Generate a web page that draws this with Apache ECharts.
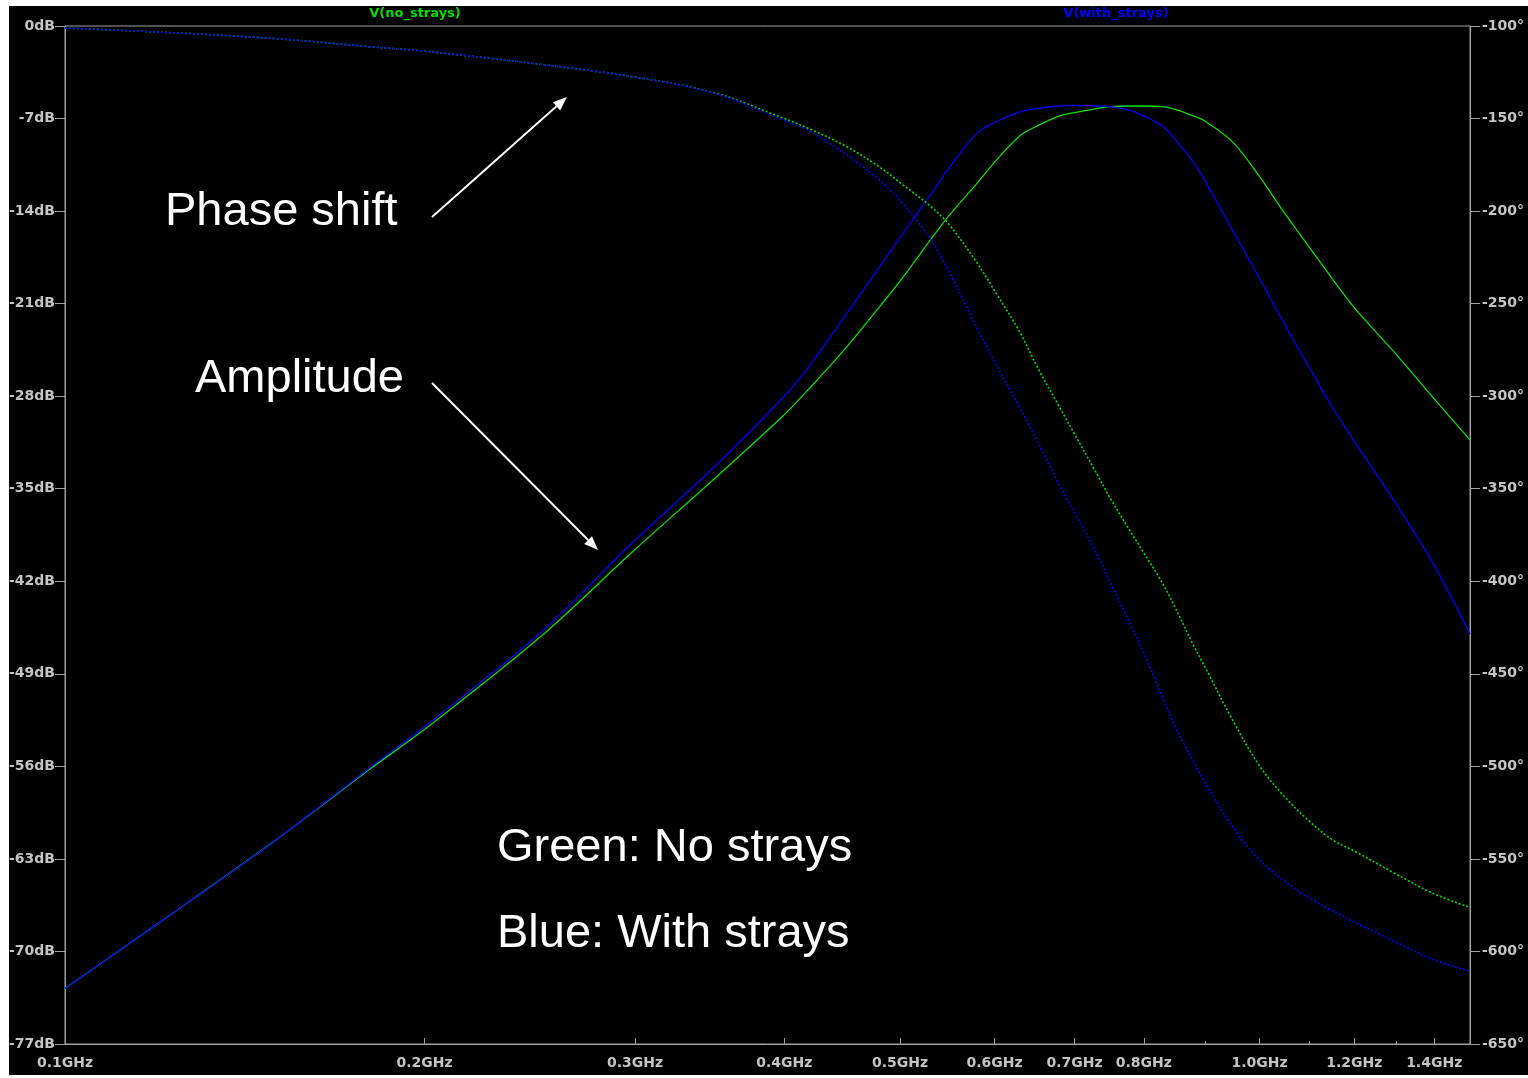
<!DOCTYPE html>
<html>
<head>
<meta charset="utf-8">
<title>V(no_strays) / V(with_strays)</title>
<script src="https://cdn.jsdelivr.net/npm/echarts@6/dist/echarts.min.js"></script>
<style>
  html, body { margin: 0; padding: 0; background: #fff; }
  #chart { position: absolute; left: 9px; top: 6px; width: 1519px; height: 1069px; background: #000; }
</style>
</head>
<body>
<div id="chart"></div>
<script>
// frequency points (GHz)
const freqGHz = [0.1, 0.12, 0.15, 0.18, 0.2, 0.25, 0.3, 0.35, 0.4, 0.42, 0.45, 0.48, 0.5, 0.53, 0.55, 0.58, 0.6, 0.63, 0.65, 0.68,
  0.7, 0.73, 0.75, 0.78, 0.8, 0.83, 0.85, 0.88, 0.9, 0.95, 1.0, 1.05, 1.1, 1.15, 1.2, 1.3, 1.4, 1.5];

// amplitude, dB
const ampNoStrays = [-72.8, -67.8, -61.6, -56.2, -53.2, -46.2, -39.6, -34.2, -29.4, -27.4, -24.4, -21.3, -19.3, -16.2, -14.3, -11.9, -10.3, -8.3, -7.6, -6.8,
  -6.55, -6.25, -6.1, -6.05, -6.05, -6.1, -6.3, -6.8, -7.2, -8.8, -11.4, -14.2, -16.7, -19.1, -21.3, -24.8, -28.2, -31.3];
const ampWithStrays = [-72.8, -67.8, -61.6, -56.1, -53.0, -45.9, -38.9, -33.3, -28.0, -25.7, -21.9, -18.3, -16.0, -12.8, -10.7, -8.1, -7.3, -6.5, -6.25, -6.05,
  -6.0, -6.05, -6.1, -6.4, -6.8, -7.6, -8.6, -10.3, -11.7, -15.5, -19.1, -22.6, -25.8, -28.8, -31.4, -36.1, -40.8, -46.0];

// phase, degrees
const phaseNoStrays = [-101.1, -103.3, -106.8, -111.2, -113.6, -120.7, -127.6, -136.2, -150.0, -155.6, -164.8, -175.9, -184.6, -197.3, -207.5, -228.0, -243.0, -265.5, -283.0, -306.0,
  -320.5, -341.5, -355.3, -373.4, -384.7, -401.5, -414.4, -434.4, -446.3, -475.4, -499.8, -516.6, -529.5, -539.6, -545.7, -558.1, -568.9, -576.2];
const phaseWithStrays = [-101.1, -103.3, -106.8, -111.2, -113.6, -120.7, -127.6, -136.5, -151.1, -156.7, -169.2, -182.9, -194.2, -214.9, -233.2, -262.9, -281.5, -306.4, -322.9, -348.0,
  -363.1, -384.7, -400.7, -423.6, -438.7, -463.0, -478.7, -497.1, -508.5, -533.0, -550.6, -562.2, -571.1, -577.9, -584.1, -594.9, -604.6, -610.6];

// axis ticks
const freqLabels = [0.1, 0.2, 0.3, 0.4, 0.5, 0.6, 0.7, 0.8, 1.0, 1.2, 1.4];
const freqMinorTicks = [0.9, 1.1, 1.3, 1.5];

const GREEN = '#00e000';
const BLUE = '#0000ff';
const AXIS = '#a0a0a0';
const LABEL = '#c4c4c4';
const labelFont = { color: LABEL, fontFamily: '"DejaVu Sans"', fontWeight: 'bold', fontSize: 14 };

const chart = echarts.init(document.getElementById('chart'));

const lg = f => Math.log10(f);
const toPts = vals => freqGHz.map((f, i) => [lg(f), vals[i]]);

// annotation arrow: line plus filled head
function arrow(x1, y1, x2, y2) {
  const len = Math.hypot(x2 - x1, y2 - y1);
  const ux = (x2 - x1) / len, uy = (y2 - y1) / len;
  const hl = 14, hw = 5.5;
  const bx = x2 - ux * hl, by = y2 - uy * hl;
  return [
    { type: 'line', shape: { x1, y1, x2: bx, y2: by }, style: { stroke: '#fff', lineWidth: 2 }, z: 10 },
    { type: 'polygon', shape: { points: [[x2, y2], [bx - uy * hw, by + ux * hw], [bx + uy * hw, by - ux * hw]] }, style: { fill: '#fff' }, z: 10 }
  ];
}

const bigText = (text, x, y) => ({
  type: 'text', x, y, z: 10,
  style: { text, fill: '#fff', font: '47px "Liberation Sans", Arial, sans-serif', verticalAlign: 'middle' }
});

const option = {
  backgroundColor: '#000',
  animation: false,
  grid: {
    left: 56, right: 58, top: 20, bottom: 31,
    outerBoundsMode: 'none',
    show: true, borderColor: AXIS, borderWidth: 1
  },
  xAxis: [
    {
      type: 'value',
      min: -1,
      max: lg(1.5),
      axisLine: { show: true, onZero: false, lineStyle: { color: AXIS } },
      axisTick: { show: true, inside: true, length: 6, customValues: freqLabels.map(lg), lineStyle: { color: AXIS } },
      axisLabel: {
        ...labelFont,
        margin: 12,
        customValues: freqLabels.map(lg),
        formatter: v => Math.pow(10, v).toFixed(1) + 'GHz'
      },
      splitLine: { show: false }
    },
    {
      type: 'value',
      position: 'bottom',
      min: -1,
      max: lg(1.5),
      axisLine: { show: false, onZero: false },
      axisTick: { show: true, inside: true, length: 3, customValues: freqMinorTicks.map(lg), lineStyle: { color: AXIS } },
      axisLabel: { show: false },
      splitLine: { show: false }
    }
  ],
  yAxis: [
    {
      type: 'value',
      min: -77,
      max: 0,
      interval: 7,
      position: 'left',
      axisLine: { show: true, onZero: false, lineStyle: { color: AXIS } },
      axisTick: { show: true, length: 10, lineStyle: { color: AXIS } },
      axisLabel: { ...labelFont, margin: 10, formatter: v => v + 'dB' },
      splitLine: { show: false }
    },
    {
      type: 'value',
      min: -650,
      max: -100,
      interval: 50,
      position: 'right',
      axisLine: { show: true, onZero: false, lineStyle: { color: AXIS } },
      axisTick: { show: true, length: 10, lineStyle: { color: AXIS } },
      axisLabel: { ...labelFont, margin: 12, formatter: v => v + '°' },
      splitLine: { show: false }
    }
  ],
  series: [
    {
      name: 'V(no_strays)', type: 'line', yAxisIndex: 0, data: toPts(ampNoStrays),
      showSymbol: false, smooth: 0.35, lineStyle: { color: GREEN, width: 1.3 }
    },
    {
      name: 'V(with_strays)', type: 'line', yAxisIndex: 0, data: toPts(ampWithStrays),
      showSymbol: false, smooth: 0.35, lineStyle: { color: BLUE, width: 1.3 }
    },
    {
      name: 'V(no_strays) phase', type: 'line', yAxisIndex: 1, data: toPts(phaseNoStrays),
      showSymbol: false, smooth: 0.35, lineStyle: { color: GREEN, width: 1.6, type: [2, 2] }
    },
    {
      name: 'V(with_strays) phase', type: 'line', yAxisIndex: 1, data: toPts(phaseWithStrays),
      showSymbol: false, smooth: 0.35, lineStyle: { color: BLUE, width: 1.6, type: [2, 2] }
    }
  ],
  graphic: [
    { type: 'text', x: 406, y: 8, style: { text: 'V(no_strays)', fill: GREEN, font: 'bold 13px "DejaVu Sans"', align: 'center', verticalAlign: 'middle' } },
    { type: 'text', x: 1107, y: 8, style: { text: 'V(with_strays)', fill: BLUE, font: 'bold 13px "DejaVu Sans"', align: 'center', verticalAlign: 'middle' } },
    bigText('Phase shift', 156, 206),
    bigText('Amplitude', 186, 373),
    bigText('Green: No strays', 488, 842),
    bigText('Blue: With strays', 488, 928),
    ...arrow(423, 211, 558, 91),
    ...arrow(423, 377, 589, 544)
  ]
};

chart.setOption(option);
window.addEventListener('resize', () => chart.resize());
</script>
</body>
</html>
